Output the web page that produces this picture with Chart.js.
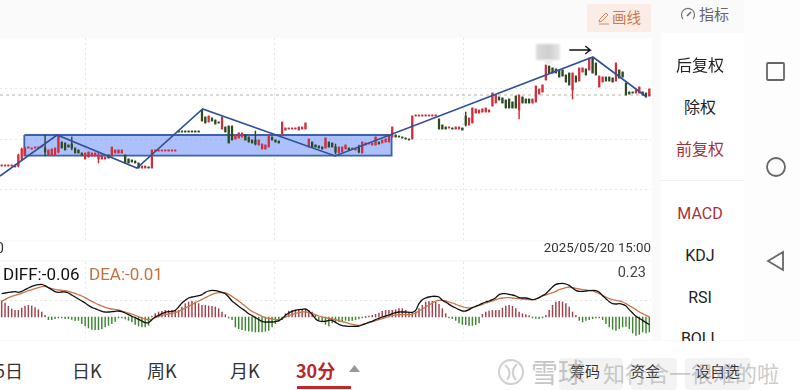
<!DOCTYPE html>
<html>
<head>
<meta charset="utf-8">
<script src="https://cdn.jsdelivr.net/npm/chart.js@4"></script>
<style>
html, body { margin: 0; padding: 0; width: 800px; height: 390px; overflow: hidden; background: #fafafa; font-family: "Noto Sans CJK SC", Roboto, sans-serif; }
.abs { position: absolute; white-space: nowrap; line-height: 1; }
.panel { position: absolute; background: #fff; }
canvas { position: absolute; left: 0; filter: blur(0.25px); }
.side { left: 661px; width: 78px; text-align: center; font-size: 16px; color: #222; }
.red { color: #a8323a; }
.tab { top: 361px; font-size: 18px; color: #333; }
.btn { position: absolute; top: 358px; height: 32px; background: #f3f3f3; border-radius: 4px; }
.btxt { top: 363px; font-size: 15px; color: #333; }
.mark { position: absolute; }
</style>
</head>
<body>
<div class="panel" style="left:0;top:38px;width:652px;height:202px"></div>
<div class="panel" style="left:0;top:242px;width:652px;height:18px"></div>
<div class="panel" style="left:0;top:262px;width:652px;height:78px"></div>
<div class="panel" style="left:661px;top:33px;width:83px;height:307px"></div>
<div class="panel" style="left:744px;top:0;width:56px;height:340px;background:#fdfdfd"></div>
<div class="panel" style="left:0;top:341px;width:800px;height:49px"></div>

<canvas id="kline" width="651" height="202" style="top:38px"></canvas>
<canvas id="macd" width="651" height="76" style="top:262px"></canvas>

<!-- toolbar -->
<div class="panel" style="left:587px;top:4px;width:64px;height:28px;background:#fbece6"></div>
<svg class="mark" style="left:597px;top:11px" width="14" height="14" viewBox="0 0 14 14"><path d="M2 11 L3 8 L9 2 L11 4 L5 10 Z M2 13 L12 13" fill="none" stroke="#d08a5c" stroke-width="1"/></svg>
<div class="abs" style="left:612px;top:10px;font-size:14.5px;color:#c97b4a">画线</div>
<svg class="mark" style="left:680px;top:7px" width="16" height="14" viewBox="0 0 16 14"><path d="M3 12 A6.5 6.5 0 1 1 13 12" fill="none" stroke="#777" stroke-width="1.2"/><path d="M7 9 L11 5" stroke="#666" stroke-width="1.6"/></svg>
<div class="abs" style="left:699px;top:6px;font-size:15px;color:#666">指标</div>

<!-- blurred mosaic next to the arrow -->
<div class="mark" style="left:536px;top:44px;width:24px;height:16px;filter:blur(1px);background:linear-gradient(90deg,#dcdcdc,#cfcfcf 55%,#e6e6e6)"></div>
<div class="mark" style="left:545px;top:60px;width:7px;height:4px;background:#ececec;filter:blur(1px)"></div>

<!-- side menu -->
<div class="abs side" style="top:56px">后复权</div>
<div class="abs side" style="top:98px">除权</div>
<div class="abs side red" style="top:140px">前复权</div>
<div class="mark" style="left:661px;top:180px;width:83px;height:1px;background:#f2f2f2"></div>
<div class="abs side red" style="top:206px;font-family:Roboto">MACD</div>
<div class="abs side" style="top:248px;font-family:Roboto">KDJ</div>
<div class="abs side" style="top:290px;font-family:Roboto">RSI</div>
<div class="abs side" style="top:331px;font-family:Roboto">BOLL</div>
<div class="panel" style="left:661px;top:341px;width:83px;height:10px"></div>

<!-- android nav bar -->
<svg class="mark" style="left:760px;top:56px" width="32" height="220" viewBox="0 0 32 220" fill="none" stroke="#666" stroke-width="1.8">
<rect x="7" y="7" width="17" height="17" rx="1"/>
<circle cx="16" cy="111" r="9"/>
<path d="M23 196 L8 205 L23 214 Z"/>
</svg>

<!-- bottom bar -->
<div class="abs tab" style="left:-5px">5日</div>
<div class="abs tab" style="left:72px">日K</div>
<div class="abs tab" style="left:147px">周K</div>
<div class="abs tab" style="left:230px">月K</div>
<div class="abs tab red" style="left:296px;font-weight:700;color:#b5282e">30分</div>
<svg class="mark" style="left:349px;top:365px" width="12" height="8"><path d="M0 7 L5.5 0 L11 7 Z" fill="#999"/></svg>
<div class="mark" style="left:297px;top:386px;width:54px;height:3px;background:#c0282c"></div>
<div class="btn" style="left:559px;width:64px"></div>
<div class="btn" style="left:631px;width:46px"></div>
<div class="btn" style="left:685px;width:66px"></div>
<div class="abs btxt" style="left:570px">筹码</div>
<div class="abs btxt" style="left:630px">资金</div>
<div class="abs btxt" style="left:695px">设自选</div>
<svg class="mark" style="left:497px;top:358px;opacity:.45" width="28" height="28" viewBox="0 0 28 28" fill="none" stroke="#999" stroke-width="2"><circle cx="14" cy="14" r="12"/><path d="M8 7 Q16 14 10 22 M20 6 Q12 14 19 22"/></svg>
<div class="abs" style="left:531px;top:358px;font-size:27px;color:#9a9a9a;opacity:.55">雪球</div>
<div class="abs" style="left:603px;top:361px;font-size:22px;color:#9a9a9a;opacity:.5">知行合一很难的啦</div>

<div id="labels"></div>

<script>
var highs = [10.74,10.74,10.74,10.74,10.75,10.86,10.92,10.93,10.92,10.91,10.92,10.92,10.93,11.05,10.90,10.91,10.92,11.05,10.98,10.97,10.95,11.03,10.92,10.90,10.87,10.87,10.88,10.87,10.87,10.88,10.85,10.83,10.85,10.93,10.90,10.90,10.90,10.85,10.81,10.80,10.79,10.77,10.74,10.74,10.73,10.90,
10.89,10.89,10.89,10.89,10.89,10.89,10.89,11.09,11.09,11.09,11.09,11.09,11.09,11.09,
11.30,11.23,11.24,11.22,11.20,11.18,11.23,11.13,11.14,11.14,
11.05,11.07,11.07,11.05,11.03,11.00,11.09,11.00,10.96,10.95,
11.05,11.03,11.00,10.99,11.18,11.12,11.12,11.11,11.11,11.13,
11.13,11.17,11.01,10.98,10.95,10.94,10.93,11.02,10.98,10.97,
10.96,10.93,10.93,10.95,10.92,10.91,10.90,10.95,10.98,10.97,
10.96,10.97,11.03,10.98,11.00,11.01,11.05,11.13,11.05,11.04,
11.03,11.02,11.01,11.24,11.24,11.24,11.24,11.24,11.24,11.24,
11.24,11.21,11.15,11.13,11.12,11.12,11.13,11.13,11.12,11.28,
11.22,11.32,11.31,11.30,11.31,11.32,11.30,11.47,11.45,11.43,
11.42,11.40,11.41,11.38,11.44,11.45,11.43,11.41,11.41,11.41,
11.54,11.51,11.55,11.75,11.74,11.72,11.71,11.70,11.70,11.65,
11.67,11.67,11.64,11.72,11.72,11.71,11.82,11.82,11.77,11.64,
11.63,11.63,11.63,11.62,11.77,11.70,11.68,11.57,11.48,11.48,
11.50,11.53,11.48,11.47,11.51];

var lows = [10.74,10.74,10.74,10.74,10.73,10.73,10.80,10.85,10.92,10.91,10.92,10.92,10.93,10.84,10.85,10.85,10.85,10.87,10.92,10.90,10.93,10.90,10.87,10.87,10.85,10.81,10.83,10.84,10.84,10.77,10.81,10.81,10.82,10.84,10.87,10.87,10.87,10.77,10.77,10.78,10.77,10.72,10.72,10.72,10.72,10.72,
10.89,10.89,10.89,10.89,10.89,10.89,10.89,11.08,11.08,11.08,11.08,11.08,11.08,11.08,
11.19,11.17,11.18,11.19,11.16,11.17,11.11,11.08,10.97,11.00,
11.01,11.02,11.03,11.00,10.98,10.97,10.95,10.95,10.91,10.91,
10.93,11.00,10.98,10.97,11.05,11.10,11.11,11.11,11.11,11.10,
11.11,11.11,10.93,10.93,10.93,10.92,10.91,10.92,10.93,10.93,
10.86,10.87,10.88,10.91,10.90,10.91,10.90,10.87,10.87,10.95,
10.96,10.95,10.95,10.96,10.97,10.98,10.98,11.03,11.03,11.03,
11.02,11.01,11.00,11.01,11.24,11.24,11.24,11.24,11.24,11.24,
11.24,11.11,11.11,11.11,11.12,11.11,11.11,11.11,11.10,11.14,
11.15,11.17,11.27,11.27,11.28,11.28,11.28,11.34,11.37,11.40,
11.37,11.32,11.32,11.32,11.32,11.21,11.37,11.37,11.37,11.37,
11.38,11.46,11.48,11.60,11.67,11.67,11.67,11.63,11.64,11.58,
11.55,11.41,11.58,11.59,11.68,11.65,11.70,11.67,11.65,11.53,
11.58,11.59,11.59,11.58,11.59,11.62,11.63,11.45,11.46,11.47,
11.47,11.47,11.45,11.43,11.44];

var opens = [10.74,10.74,10.74,10.74,10.73,10.74,10.81,10.86,10.92,10.91,10.92,10.92,10.93,10.92,10.85,10.85,10.85,10.88,10.98,10.97,10.95,10.96,10.92,10.90,10.87,10.81,10.83,10.84,10.84,10.81,10.81,10.81,10.85,10.84,10.87,10.87,10.87,10.85,10.81,10.80,10.79,10.77,10.72,10.72,10.73,10.72,
10.89,10.89,10.89,10.89,10.89,10.89,10.89,11.09,11.09,11.09,11.09,11.09,11.09,11.09,
11.30,11.23,11.18,11.22,11.20,11.18,11.11,11.13,11.14,11.14,
11.01,11.02,11.03,11.05,11.03,11.00,11.00,10.95,10.91,10.91,
10.93,11.03,11.00,10.99,11.05,11.10,11.11,11.11,11.11,11.10,
11.11,11.11,10.93,10.98,10.95,10.94,10.93,10.92,10.98,10.97,
10.93,10.87,10.88,10.91,10.92,10.91,10.90,10.93,10.87,10.95,
10.96,10.95,10.95,10.98,10.97,10.98,10.98,11.03,11.05,11.04,
11.03,11.02,11.01,11.01,11.24,11.24,11.24,11.24,11.24,11.24,
11.24,11.21,11.15,11.13,11.12,11.12,11.11,11.11,11.12,11.24,
11.15,11.17,11.27,11.27,11.28,11.28,11.28,11.34,11.37,11.43,
11.42,11.40,11.41,11.38,11.44,11.30,11.43,11.41,11.41,11.37,
11.38,11.46,11.48,11.60,11.74,11.72,11.71,11.70,11.70,11.65,
11.67,11.50,11.64,11.59,11.68,11.71,11.70,11.82,11.77,11.53,
11.58,11.63,11.63,11.62,11.59,11.70,11.68,11.57,11.48,11.48,
11.47,11.47,11.48,11.47,11.44];

var closes = [10.74,10.74,10.74,10.74,10.75,10.85,10.91,10.92,10.92,10.91,10.92,10.92,10.93,10.88,10.90,10.91,10.92,11.04,10.92,10.90,10.93,10.92,10.87,10.87,10.85,10.87,10.88,10.87,10.87,10.85,10.85,10.83,10.82,10.93,10.90,10.90,10.90,10.77,10.77,10.78,10.77,10.72,10.74,10.74,10.72,10.90,
10.89,10.89,10.89,10.89,10.89,10.89,10.89,11.08,11.08,11.08,11.08,11.08,11.08,11.08,
11.19,11.17,11.24,11.19,11.16,11.17,11.23,11.08,10.97,11.00,
11.05,11.07,11.07,11.00,10.98,10.97,10.96,11.00,10.96,10.95,
11.05,11.00,10.98,10.97,11.18,11.12,11.12,11.11,11.11,11.13,
11.13,11.17,11.01,10.93,10.93,10.92,10.91,11.02,10.93,10.93,
10.88,10.93,10.93,10.95,10.90,10.91,10.90,10.88,10.98,10.97,
10.96,10.97,11.03,10.96,11.00,11.01,11.05,11.13,11.03,11.03,
11.02,11.01,11.00,11.24,11.24,11.24,11.24,11.24,11.24,11.24,
11.24,11.11,11.11,11.11,11.12,11.11,11.13,11.13,11.10,11.15,
11.22,11.32,11.31,11.30,11.31,11.32,11.30,11.47,11.45,11.40,
11.37,11.32,11.32,11.32,11.32,11.45,11.37,11.37,11.37,11.41,
11.54,11.51,11.55,11.75,11.67,11.67,11.67,11.63,11.64,11.58,
11.55,11.67,11.58,11.72,11.72,11.65,11.82,11.67,11.65,11.64,
11.63,11.59,11.59,11.58,11.77,11.62,11.63,11.45,11.46,11.47,
11.50,11.53,11.45,11.43,11.51];

var histValues = [.096,.084,.064,.048,.04,.04,.054,.066,.07,.066,.056,.044,.03,.01,-.016,-.016,-.01,-.006,-.004,-.01,-.01,-.014,-.02,-.02,-.04,-.054,-.066,-.074,-.076,-.076,-.072,-.06,-.05,-.04,-.026,-.004,-.002,-.012,-.02,-.03,-.044,-.054,-.06,-.06,-.05,
.004,.02,.03,.034,.04,.04,.04,.036,.04,.06,.08,.09,.096,.09,.08,.07,.07,.066,.064,.06,.05,.03,.014,-.004,-.016,
-.06,-.07,-.076,-.08,-.084,-.086,-.09,-.09,-.09,-.086,-.08,-.06,-.04,-.026,-.016,
.02,.036,.04,.044,.044,.046,.046,.04,.03,.01,-.02,-.03,-.044,-.054,-.036,
-.03,-.026,-.026,-.02,-.024,-.02,-.016,-.012,-.004,0,.004,.01,.016,.024,.034,.04,.04,.04,.044,.05,.05,.04,.03,.026,.03,
.05,.07,.09,.094,.094,.09,.076,.05,.02,-.004,-.01,-.02,-.036,-.044,-.046,-.05,-.05,-.046,-.036,
.016,.03,.036,.04,.04,.04,.054,.066,.07,.064,.05,.03,.02,.014,.008,-.004,-.008,-.01,-.004,.01,.04,.07,.09,.094,.09,.08,.06,.03,.01,
-.02,-.03,-.02,-.016,-.01,-.004,-.004,-.016,-.04,-.06,-.074,-.08,-.07,-.06,-.056,-.07,-.096,-.11,-.104,-.09,-.096,-.09];

var diffValues = [.14,.144,.148,.15,.152,.148,.154,.164,.174,.184,.19,.194,.196,.188,.176,.164,.152,.148,.15,.15,.144,.132,.12,.108,.096,.084,.07,.058,.05,.042,.034,.03,.03,.032,.034,.036,.032,.024,.014,.004,-.004,-.014,-.024,-.034,-.034,-.016,0,.01,.02,.028,.032,.034,.04,.06,.084,.1,.114,.12,.124,.128,.134,.148,.156,.16,.158,.154,.148,.14,.12,.096,.08,.064,.05,.036,.02,.008,-.004,-.016,-.026,-.03,-.03,-.03,-.028,-.022,-.01,.01,.024,.034,.04,.044,.046,.048,.036,.016,-.01,-.024,-.026,-.026,-.02,
-.02,-.032,-.044,-.052,-.054,-.056,-.056,-.056,-.054,-.048,-.04,-.032,-.026,-.016,-.008,0,.006,.012,.02,.026,.03,.03,.03,.028,.028,.04,.08,.104,.114,.12,.124,.124,.12,.1,.09,.076,.064,.054,.044,.036,.036,.044,.056,.064,.072,.082,.09,.096,.104,.116,.134,.14,.14,.136,.132,.126,.116,.114,.114,.11,.104,.108,.116,.128,.14,.16,.18,.196,.2,.202,.198,.19,.174,.16,.154,.154,.156,.158,.16,.158,.148,.128,.11,.092,.08,.078,.08,.076,.066,.044,.024,.004,-.008,-.02,-.034,-.046];

var deaValues = [.096,.104,.116,.124,.13,.136,.142,.15,.158,.164,.17,.176,.182,.184,.176,.17,.166,.162,.16,.158,.154,.148,.142,.134,.126,.116,.104,.094,.084,.074,.066,.058,.052,.048,.046,.042,.036,.03,.024,.018,.01,.002,-.006,-.012,-.016,-.012,-.004,.004,.01,.014,.018,.022,.026,.034,.044,.054,.064,.074,.086,.096,.106,.116,.126,.136,.142,.146,.146,.144,.136,.124,.11,.096,.08,.064,.048,.034,.024,.014,.004,-.004,-.008,-.012,-.016,-.016,-.01,0,.008,.016,.022,.026,.03,.03,.028,.02,.014,.006,0,-.004,-.008,
-.012,-.016,-.022,-.028,-.032,-.038,-.044,-.048,-.05,-.044,-.04,-.034,-.028,-.022,-.016,-.01,-.004,.004,.01,.012,.014,.014,.014,.014,.016,.024,.036,.048,.06,.072,.084,.096,.1,.1,.096,.09,.084,.076,.068,.062,.056,.054,.056,.064,.07,.076,.084,.09,.096,.104,.11,.114,.116,.116,.114,.112,.11,.108,.106,.104,.104,.108,.116,.126,.132,.14,.146,.154,.164,.17,.176,.18,.176,.172,.168,.164,.162,.16,.156,.148,.14,.13,.12,.11,.104,.1,.096,.09,.08,.068,.056,.044,.03,.02,.01,0];

var lastClose = 11.45;
var trendX = [-0.5,16.6,40.5,60.2,99.9,177.1,193.2];
var trendY = [10.64,11.05,10.72,11.31,10.84,11.83,11.43];
var boxX = [6.78,116.8,116.8,6.78,6.78];
var boxY = [11.05,11.05,10.844,10.844,11.05];
var arrowX = [170,176.3,174.8,176.3,174.8];
var arrowY = [11.90,11.90,11.94,11.90,11.86];
var klineGridX = [25,81.6,138.2,194.8];
var klineGridY = [10.505,11.01,11.515];
var macdGridY = [0.10];
var dateLabels = ['0','2025/05/20 15:00'];
var macdLabels = ['DIFF:-0.06','DEA:-0.01','0.23'];

var RED = '#cf2f3c', DARK = '#2f4a22';

function toXY(xs, ys) {
  return xs.map(function (x, i) { return { x: x, y: ys[i] }; });
}

function pinTicks(values) {
  return function (scale) {
    scale.ticks = values.map(function (v) { return { value: v }; });
  };
}

var xIdx = highs.map(function (h, i) { return i; });
var candleColor = xIdx.map(function (i) { return closes[i] >= opens[i] ? RED : DARK; });

new Chart(document.getElementById('kline'), {
  type: 'bar',
  data: {
    datasets: [
      { type: 'line', data: toXY(trendX, trendY), borderColor: '#2f5199', borderWidth: 1.6, pointRadius: 0, order: 0 },
      { type: 'line', data: toXY(arrowX, arrowY), borderColor: '#111', borderWidth: 1.3, pointRadius: 0, order: 0 },
      { data: xIdx.map(function (i) { return { x: i, y: [Math.min(opens[i], closes[i]), Math.max(opens[i], closes[i])] }; }),
        backgroundColor: candleColor, barThickness: 1.6, minBarLength: 1, grouped: false, order: 1 },
      { data: xIdx.map(function (i) { return { x: i, y: [lows[i], highs[i]] }; }),
        backgroundColor: candleColor, barThickness: 0.8, minBarLength: 1, grouped: false, order: 2 },
      { type: 'line', data: toXY(boxX, boxY), borderColor: '#3c62ad', borderWidth: 1.8, backgroundColor: 'rgba(104,140,250,0.55)', fill: 'shape', pointRadius: 0, tension: 0, order: 3 },
      { type: 'line', data: toXY([-0.5, 194.5], [lastClose, lastClose]), borderColor: '#b9b4a4', borderWidth: 1, borderDash: [3, 3], pointRadius: 0, order: 4 }
    ]
  },
  options: {
    responsive: false,
    animation: false,
    events: [],
    layout: { padding: 0 },
    plugins: { legend: { display: false }, tooltip: { enabled: false } },
    scales: {
      x: { type: 'linear', min: -0.5, max: 194.5, offset: false, afterBuildTicks: pinTicks(klineGridX),
        ticks: { display: false }, border: { display: false, dash: [2, 3] },
        grid: { color: '#e6e6e6', drawTicks: false, offset: false } },
      y: { min: 10.00, max: 12.02, afterBuildTicks: pinTicks(klineGridY),
        ticks: { display: false }, border: { display: false, dash: [2, 3] },
        grid: { color: '#e6e6e6', drawTicks: false } }
    }
  }
});

new Chart(document.getElementById('macd'), {
  type: 'bar',
  data: {
    datasets: [
      { type: 'line', data: toXY(xIdx, diffValues), borderColor: '#111', borderWidth: 1.3, pointRadius: 0, tension: 0.3, order: 0 },
      { type: 'line', data: toXY(xIdx, deaValues), borderColor: '#c8764a', borderWidth: 1.3, pointRadius: 0, tension: 0.3, order: 1 },
      { data: toXY(xIdx, histValues), barThickness: 0.8, minBarLength: 1,
        backgroundColor: histValues.map(function (v) { return v >= 0 ? '#a0404c' : '#3f8430'; }), order: 2 }
    ]
  },
  options: {
    responsive: false,
    animation: false,
    events: [],
    layout: { padding: 0 },
    plugins: { legend: { display: false }, tooltip: { enabled: false } },
    scales: {
      x: { type: 'linear', min: -0.5, max: 194.5, offset: false, afterBuildTicks: pinTicks(klineGridX),
        ticks: { display: false }, border: { display: false, dash: [2, 3] },
        grid: { color: '#e8e8e8', drawTicks: false, offset: false } },
      y: { min: -0.126, max: 0.33, afterBuildTicks: pinTicks(macdGridY),
        ticks: { display: false }, border: { display: false, dash: [2, 3] },
        grid: { color: '#e4e4e4', drawTicks: false } }
    }
  }
});

function addLabel(text, css) {
  var el = document.createElement('div');
  el.className = 'abs';
  el.style.cssText = css;
  el.textContent = text;
  document.getElementById('labels').appendChild(el);
}
addLabel(dateLabels[0], 'left:-4px;top:241px;font-size:14px;color:#333;font-family:Roboto');
addLabel(dateLabels[1], 'right:149px;top:241px;font-size:13.3px;color:#333;font-family:Roboto');
addLabel(macdLabels[0], 'left:3px;top:266px;font-size:17px;color:#111;font-family:Roboto');
addLabel(macdLabels[1], 'left:89px;top:266px;font-size:17px;color:#c5703f;font-family:Roboto');
addLabel(macdLabels[2], 'right:154px;top:266px;font-size:14.5px;color:#444;font-family:Roboto');
</script>
</body>
</html>
